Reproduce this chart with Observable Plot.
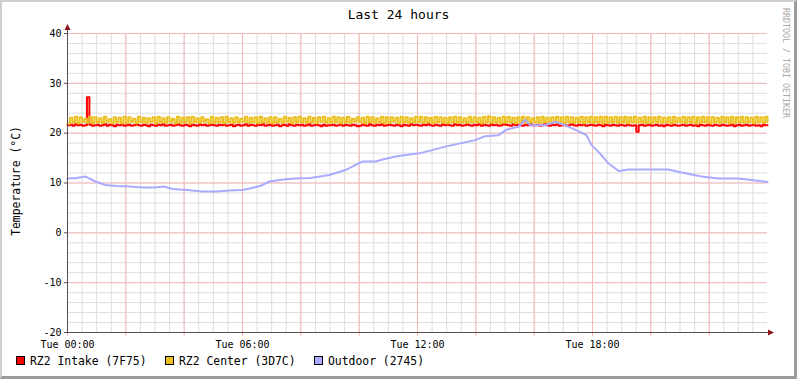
<!DOCTYPE html>
<html>
<head>
<meta charset="utf-8">
<script src="https://cdn.jsdelivr.net/npm/d3@7"></script>
<script src="https://cdn.jsdelivr.net/npm/@observablehq/plot@0.6"></script>
<style>
  html, body { margin: 0; padding: 0; background: #fff; }
  #wrap { position: relative; width: 797px; height: 379px; overflow: hidden; background: #fff;
          font-family: "DejaVu Sans Mono", monospace; }
  #wrap svg { position: absolute; left: 0; top: 0; }
  .abs { position: absolute; white-space: nowrap; }
  #title { left: 0; width: 797px; top: 7px; text-align: center; font-size: 13px; color: #000; }
  #ylab { left: 16px; top: 181px; font-size: 11.4px; transform: translate(-50%, -50%) rotate(-90deg); color: #000; }
  #mark { left: 786px; top: 63px; font-size: 8.3px; color: #a8a8a8; transform: translate(-50%, -50%) rotate(90deg); }
  #legend { left: 0; top: 353px; font-size: 11.4px; height: 16px; width: 797px; }
  .sw { position: absolute; top: 3px; width: 7px; height: 7px; border: 1px solid #000; }
  .lt { position: absolute; top: 0px; line-height: 16px; color: #000; }
  #frame { left: 0; top: 0; width: 797px; height: 379px; box-sizing: border-box;
           border-top: 2px solid #cfcfcf; border-left: 2px solid #cfcfcf;
           border-right: 3px solid #9c9c9c; border-bottom: 3px solid #9c9c9c; pointer-events: none; }
</style>
</head>
<body>
<div id="wrap">
  <div id="chart"></div>
  <div class="abs" id="title"></div>
  <div class="abs" id="ylab"></div>
  <div class="abs" id="mark"></div>
  <div class="abs" id="legend"></div>
  <div class="abs" id="frame"></div>
</div>
<script>
// ---------- data ----------
const titleText = "Last 24 hours";
const yLabel = "Temperature (°C)";
const watermark = "RRDTOOL / TOBI OETIKER";
const seriesNames = ["RZ2 Intake (7F75)", "RZ2 Center (3D7C)", "Outdoor (2745)"];
const seriesColors = ["#ff0000", "#ebc01f", "#aaaaff"];
const yMajorTicks = [-20, -10, 0, 10, 20, 30, 40];
const startTime = Date.UTC(2024, 0, 2, 0, 0); // a Tuesday, 00:00
const sampleMinutes = 5;

// RZ2 Intake, one value every 5 minutes
const intake = [
 21.6,21.7,21.5,21.8,21.6,21.7,21.5,21.6,27.2,21.7,21.5,21.6,
 21.7,21.5,21.6,21.8,21.5,21.7,21.6,21.4,21.7,21.6,21.8,21.5,
 21.6,21.7,21.5,21.6,21.8,21.6,21.5,21.7,21.6,21.4,21.7,21.6,
 21.5,21.7,21.6,21.8,21.5,21.6,21.7,21.5,21.6,21.8,21.6,21.5,
 21.7,21.6,21.4,21.7,21.6,21.5,21.8,21.6,21.7,21.5,21.6,21.7,
 21.6,21.5,21.7,21.6,21.8,21.5,21.6,21.7,21.4,21.6,21.7,21.5,
 21.6,21.8,21.5,21.7,21.6,21.5,21.7,21.6,21.8,21.5,21.6,21.7,
 21.5,21.6,21.7,21.4,21.6,21.7,21.5,21.8,21.6,21.5,21.7,21.6,
 21.7,21.5,21.6,21.8,21.5,21.6,21.7,21.6,21.4,21.7,21.5,21.6,
 21.6,21.7,21.5,21.6,21.8,21.5,21.7,21.6,21.5,21.7,21.6,21.4,
 21.5,21.7,21.6,21.5,21.8,21.6,21.5,21.7,21.6,21.8,21.5,21.6,
 21.7,21.6,21.5,21.7,21.6,21.4,21.7,21.6,21.5,21.8,21.6,21.7,
 21.6,21.5,21.7,21.6,21.8,21.6,21.5,21.7,21.6,21.5,21.8,21.6,
 21.7,21.6,21.5,21.8,21.6,21.7,21.5,21.6,21.8,21.6,21.5,21.7,
 21.6,21.8,21.5,21.7,21.6,21.5,21.8,21.6,21.7,21.5,21.6,21.8,
 21.7,21.6,21.5,21.8,21.6,21.7,21.6,21.5,21.7,21.6,21.8,21.6,
 21.6,21.7,21.5,21.6,21.8,21.6,21.5,21.7,21.6,21.8,21.5,21.6,
 21.7,21.5,21.6,21.8,21.6,21.5,21.7,21.6,21.8,21.5,21.6,21.7,
 21.6,21.5,21.7,21.6,21.4,21.7,21.6,21.5,21.7,21.6,21.5,21.7,
 21.6,21.5,21.7,21.6,21.5,21.6,20.3,21.6,21.7,21.5,21.6,21.7,
 21.5,21.6,21.7,21.5,21.6,21.4,21.7,21.6,21.5,21.7,21.6,21.5,
 21.6,21.7,21.5,21.6,21.7,21.5,21.6,21.4,21.7,21.6,21.5,21.7,
 21.6,21.5,21.7,21.6,21.5,21.7,21.6,21.5,21.6,21.7,21.4,21.6,
 21.7,21.5,21.6,21.7,21.5,21.6,21.7,21.5,21.6,21.4,21.7,21.6,
 21.6
];

// RZ2 Center, one value every 5 minutes
const center = [
 21.9,23.1,22.2,23.3,22.0,23.2,22.3,22.9,22.1,23.3,22.0,23.2,
 22.2,23.0,22.1,23.3,22.3,22.8,22.0,23.2,22.2,23.1,22.0,23.3,
 22.1,23.2,22.3,22.9,22.0,23.3,22.2,23.1,22.1,23.0,22.3,23.2,
 22.0,23.3,22.2,23.0,22.1,23.2,22.3,22.9,22.0,23.3,22.1,23.1,
 22.2,23.2,22.0,23.3,22.2,23.0,22.1,23.2,22.3,22.8,22.0,23.3,
 22.1,23.1,22.2,23.2,22.0,23.3,22.2,23.0,22.1,23.2,22.2,22.9,
 22.3,23.3,22.1,23.1,22.2,23.2,22.0,23.3,22.2,23.0,22.1,23.2,
 22.0,23.2,22.2,22.9,22.1,23.3,22.3,23.1,22.0,23.2,22.2,23.3,
 22.2,23.0,22.1,23.3,22.2,23.1,22.0,23.2,22.3,23.3,22.1,23.0,
 22.1,23.3,22.2,23.2,22.0,23.1,22.2,23.3,22.1,22.9,22.3,23.2,
 22.2,23.1,22.0,23.3,22.2,23.2,22.1,23.0,22.2,23.3,22.0,23.2,
 22.1,23.2,22.3,23.1,22.0,23.3,22.2,23.2,22.1,23.0,22.2,23.3,
 22.2,23.3,22.1,23.2,22.2,23.1,22.0,23.3,22.2,23.2,22.1,23.1,
 22.0,23.2,22.2,23.3,22.1,23.2,22.2,23.0,22.1,23.3,22.2,23.2,
 22.2,23.1,22.0,23.3,22.2,23.4,22.1,23.2,22.2,23.1,22.0,23.3,
 22.1,23.3,22.2,23.1,22.0,23.2,22.2,23.3,22.1,23.2,22.2,23.0,
 22.2,23.2,22.1,23.3,22.2,23.1,22.0,23.2,22.2,23.3,22.1,23.2,
 22.0,23.3,22.2,23.2,22.1,23.1,22.2,23.3,22.0,23.2,22.2,23.3,
 22.1,23.2,22.2,23.3,22.0,23.3,22.1,23.2,22.2,23.3,22.1,23.2,
 22.2,23.3,22.0,23.2,22.2,23.3,22.1,23.1,22.2,23.3,22.0,23.2,
 22.1,23.2,22.2,23.3,22.1,23.1,22.2,23.2,22.0,23.3,22.2,23.1,
 22.2,23.3,22.1,23.2,22.2,23.3,22.0,23.2,22.1,23.3,22.2,23.2,
 22.0,23.2,22.2,23.1,22.1,23.3,22.2,23.2,22.0,23.3,22.1,23.2,
 22.2,23.3,22.1,23.2,22.2,23.1,22.0,23.3,22.2,23.2,22.1,23.3,
 22.2
];

// Outdoor, read at irregular times (hours after 00:00)
const outdoorHours = [0,0.3,0.62,0.96,1.3,1.7,2.13,2.6,3.0,3.3,3.6,4.1,4.63,5.1,5.55,6.0,6.24,6.6,6.93,7.4,7.82,8.33,8.98,9.53,10.1,10.56,10.8,11.25,11.83,12.03,12.5,12.95,13.5,13.98,14.32,14.78,15.05,15.46,15.69,15.86,16.38,16.72,17.06,17.62,17.79,17.97,18.26,18.55,18.9,19.23,20.02,20.6,21.05,21.74,22.32,23.0,23.45,24];
const outdoorTemps = [10.9,11.0,11.3,10.3,9.6,9.4,9.3,9.1,9.1,9.3,8.8,8.6,8.3,8.3,8.5,8.6,8.9,9.4,10.3,10.7,10.9,11.0,11.6,12.6,14.3,14.3,14.7,15.3,15.8,15.9,16.6,17.3,18.0,18.6,19.4,19.6,20.7,21.3,22.7,21.6,21.6,22.3,21.6,20.1,19.6,17.6,15.9,13.9,12.4,12.7,12.7,12.7,12.1,11.3,10.9,10.9,10.6,10.2];

// ---------- build tables ----------
const HOUR = 3600e3;
const t0 = new Date(startTime), t1 = new Date(startTime + 24 * HOUR);
const sampled = vals => vals.map((v, i) => ({t: new Date(startTime + i * sampleMinutes * 60e3), v}));
const intakeRows = sampled(intake);
const centerRows = sampled(center);
const outdoorRows = outdoorHours.map((h, i) => ({t: new Date(startTime + h * HOUR), v: outdoorTemps[i]}));

const minorX = d3.utcMinute.every(30).range(t0, t1);
const majorX = d3.utcHour.every(2).range(t0, t1);
const labelX = d3.utcHour.every(6).range(t0, t1);
const minorY = d3.range(yMajorTicks[0], yMajorTicks[yMajorTicks.length - 1] + 1, 2);

const AXIS = "#5b4d4d", ARROW = "#8a1515", MAJOR = "#f4b9b9", MINOR = "#dddddd";

function axesAndArrows(index, {x, y}) {
  const g = d3.create("svg:g");
  const ax = x(t0), ay = y(yMajorTicks[0]), top = y(yMajorTicks[yMajorTicks.length - 1]), right = x(t1);
  g.append("path").attr("d", `M${ax + 0.5},${ay}V${top - 4}`).attr("stroke", AXIS).attr("fill", "none");
  g.append("path").attr("d", `M${ax},${ay + 0.5}H${right + 4}`).attr("stroke", AXIS).attr("fill", "none");
  g.append("path").attr("d", `M${ax + 0.5},${top - 9}l-3,6h6z`).attr("fill", ARROW);
  g.append("path").attr("d", `M${right + 7},${ay + 0.5}l-6,-3v6z`).attr("fill", ARROW);
  return g.node();
}

const chart = Plot.plot({
  width: 797,
  height: 379,
  marginTop: 33,
  marginBottom: 47,
  marginLeft: 67,
  marginRight: 30,
  x: {type: "utc", domain: [t0, t1], label: null},
  y: {domain: [yMajorTicks[0], yMajorTicks[yMajorTicks.length - 1]], label: null},
  style: {fontFamily: "DejaVu Sans Mono", fontSize: "10px", background: "transparent", color: "#000"},
  marks: [
    Plot.gridY({ticks: minorY, stroke: MINOR, strokeOpacity: 1}),
    Plot.gridX({ticks: minorX, stroke: MINOR, strokeOpacity: 1}),
    Plot.gridY({ticks: yMajorTicks, stroke: MAJOR, strokeOpacity: 1}),
    Plot.gridX({ticks: majorX, stroke: MAJOR, strokeOpacity: 1}),
    Plot.axisX({ticks: majorX, tickSize: 4, tickFormat: () => "", stroke: MAJOR, strokeOpacity: 1, label: null}),
    Plot.axisX({ticks: labelX, tickSize: 0, tickPadding: 8, tickFormat: d3.utcFormat("%a %H:%M"), fill: "#000", label: null}),
    Plot.axisY({ticks: yMajorTicks, tickSize: 3, tickPadding: 3, stroke: AXIS, fill: "#000", label: null, tickFormat: d => String(d)}),
    Plot.line(intakeRows, {x: "t", y: "v", stroke: seriesColors[0], strokeWidth: 2, curve: "step-after"}),
    Plot.line(centerRows, {x: "t", y: "v", stroke: seriesColors[1], strokeWidth: 2, curve: "step-after"}),
    Plot.line(outdoorRows, {x: "t", y: "v", stroke: seriesColors[2], strokeWidth: 2}),
    axesAndArrows
  ]
});
document.getElementById("chart").appendChild(chart);

document.getElementById("title").textContent = titleText;
document.getElementById("ylab").textContent = yLabel;
document.getElementById("mark").textContent = watermark;

const legendPos = [[16, 30], [165, 179], [314, 328]];
const legend = document.getElementById("legend");
seriesNames.forEach((name, i) => {
  const sw = document.createElement("div");
  sw.className = "sw"; sw.style.left = legendPos[i][0] + "px"; sw.style.background = seriesColors[i];
  const lt = document.createElement("div");
  lt.className = "lt"; lt.style.left = legendPos[i][1] + "px"; lt.textContent = name;
  legend.appendChild(sw); legend.appendChild(lt);
});
</script>
</body>
</html>
